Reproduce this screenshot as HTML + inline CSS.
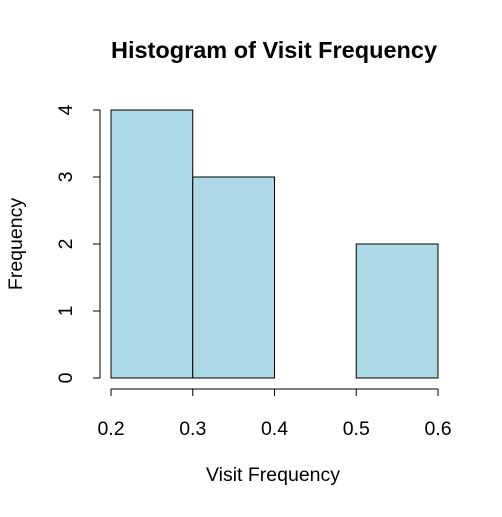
<!DOCTYPE html>
<html><head><meta charset="utf-8"><style>
body{margin:0;background:#fff}
svg text{font-family:"Liberation Sans",Arial,sans-serif;fill:#000}
</style></head><body>
<svg width="502" height="512" viewBox="0 0 502 512">
<rect width="502" height="512" fill="#fff"/>
<text x="274" y="58" font-size="23.5" font-weight="bold" text-anchor="middle">Histogram of Visit Frequency</text>
<text x="273" y="481" font-size="19.5" text-anchor="middle">Visit Frequency</text>
<text transform="translate(22,244) rotate(-90)" font-size="19.5" text-anchor="middle">Frequency</text>
<g id="bars"></g><g id="xaxis"></g><g id="yaxis"></g>
</svg>
<script>
const breaks=[0.2,0.3,0.4,0.5,0.6];
const counts=[4,3,0,2];
const xTicks=[0.2,0.3,0.4,0.5,0.6];
const yTicks=[0,1,2,3,4];
const NS="http://www.w3.org/2000/svg";
function xs(v){return 111+(v-0.2)/0.4*327;}
function ys(v){return 378-v*67;}
function mk(t,a,p){const e=document.createElementNS(NS,t);for(const k in a)e.setAttribute(k,a[k]);p.appendChild(e);return e;}
const bars=document.getElementById('bars');
counts.forEach((c,i)=>{
  const r=mk('rect',{x:xs(breaks[i]),y:ys(c),width:xs(breaks[i+1])-xs(breaks[i]),height:ys(0)-ys(c),fill:'#add8e6',stroke:'#000','stroke-width':1},bars);
  
  
});
const xa=document.getElementById('xaxis');
const xl=mk('line',{x1:xs(xTicks[0]),x2:xs(xTicks[xTicks.length-1]),y1:389,y2:389,stroke:'#000'},xa);


xTicks.forEach(v=>{
  mk('line',{x1:xs(v),x2:xs(v),y1:389,y2:396,stroke:'#000'},xa);
  const t=mk('text',{x:xs(v),y:435,'font-size':19.5,'text-anchor':'middle'},xa);
  t.textContent=String(v);
  
  
});
const ya=document.getElementById('yaxis');
const yl=mk('line',{x1:100,x2:100,y1:ys(yTicks[0]),y2:ys(yTicks[yTicks.length-1]),stroke:'#000'},ya);


yTicks.forEach(v=>{
  mk('line',{x1:93,x2:100,y1:ys(v),y2:ys(v),stroke:'#000'},ya);
  const t=mk('text',{transform:'translate(72,'+ys(v)+') rotate(-90)','font-size':19.5,'text-anchor':'middle'},ya);
  t.textContent=String(v);
  
  
});
</script>
</body></html>
